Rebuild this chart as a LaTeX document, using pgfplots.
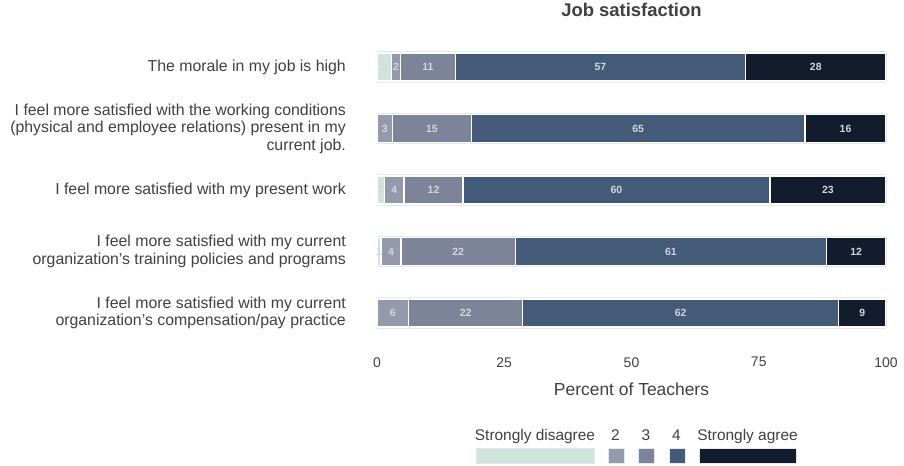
\documentclass[border=0pt]{standalone}
\usepackage{pgfplots}
\pgfplotsset{compat=1.18}
\usepackage{pgfplotstable}
\usepackage{fontspec}
\setmainfont{Liberation Sans}
\definecolor{cA}{HTML}{CFE5DC}
\definecolor{cB}{HTML}{9499AB}
\definecolor{cC}{HTML}{7D8499}
\definecolor{cD}{HTML}{435A79}
\definecolor{cE}{HTML}{131C2C}
\definecolor{cOut}{HTML}{E3E9EF}
\definecolor{cTxt}{HTML}{404040}
\definecolor{cLab}{HTML}{D2D6DD}

\pgfplotstableread{
y val
0 2.9
1 0
2 1.5
3 0.8
4 0
}\tA
\pgfplotstableread{
y val
0 1.7
1 3.1
2 3.8
3 3.9
4 6.2
}\tB
\pgfplotstableread{
y val
0 10.8
1 15.4
2 11.6
3 22.5
4 22.4
}\tC
\pgfplotstableread{
y val
0 57.0
1 65.6
2 60.3
3 61.1
4 62.1
}\tD
\pgfplotstableread{
y val
0 27.6
1 15.9
2 22.8
3 11.7
4 9.3
}\tE
\pgfplotstableread{
y val
0 100
1 100
2 100
3 100
4 100
}\tFull
% segment labels: centre of each segment and rounded percentage
\pgfplotstableread{
y mid lab
0 1.45 3
0 3.75 2
0 10.0 11
0 43.9 57
0 86.2 28
1 1.55 3
1 10.8 15
1 51.3 65
1 92.05 16
2 0.75 2
2 3.4 4
2 11.1 12
2 47.05 60
2 88.6 23
3 0.4 1
3 2.75 4
3 15.95 22
3 57.75 61
3 94.15 12
4 3.1 6
4 17.4 22
4 59.65 62
4 95.35 9
}\tLab

\begin{document}
\begin{tikzpicture}[x=1bp,y=1bp]
% faint outline behind bars
\begin{axis}[
  at={(377bp,122.25bp)}, anchor=south west,
  scale only axis, width=509bp, height=307.5bp,
  xmin=0, xmax=100, ymin=-0.5, ymax=4.5, y dir=reverse,
  hide axis, xbar, bar width=29.5bp,
]
\addplot[fill=none, draw=cOut, line width=2bp] table[x=val,y=y]{\tFull};
\end{axis}
\begin{axis}[
  at={(377bp,122.25bp)}, anchor=south west,
  scale only axis, width=509bp, height=307.5bp,
  xmin=0, xmax=100, ymin=-0.5, ymax=4.5, y dir=reverse,
  xbar stacked, bar width=28bp,
  axis line style={draw=none},
  tick style={draw=none}, major tick length=0pt,
  /pgf/number format/assume math mode=true,
  xtick={0,25,50,75,100},
  ytick={0,1,2,3,4},
  yticklabels={
    {The morale in my job is high},
    {I feel more satisfied with the working conditions\\(physical and employee relations) present in my\\current job.},
    {I feel more satisfied with my present work},
    {I feel more satisfied with my current\\organization’s training policies and programs},
    {I feel more satisfied with my current\\organization’s compensation/pay practice}
  },
  yticklabel style={align=right, anchor=east, inner sep=0pt, xshift=-31bp,
    font=\fontsize{15.9}{17.5}\selectfont, text=cTxt},
  xticklabel style={anchor=center, inner sep=0pt, yshift=-18.5bp,
    font=\fontsize{14}{16}\selectfont, text=cTxt},
  xlabel={Percent of Teachers},
  xlabel style={at={(axis description cs:0.5,0)}, anchor=center, yshift=-46bp,
    font=\fontsize{17.5}{20}\selectfont, text=cTxt},
  title={Job satisfaction},
  title style={at={(axis description cs:0.5,1)}, anchor=center, yshift=20bp,
    font=\fontsize{18.5}{21}\bfseries, text=cTxt},
  every axis plot/.append style={draw=white, line width=1.3bp},
]
\addplot[fill=cA] table[x=val,y=y]{\tA};
\addplot[fill=cB] table[x=val,y=y]{\tB};
\addplot[fill=cC] table[x=val,y=y]{\tC};
\addplot[fill=cD] table[x=val,y=y]{\tD};
\addplot[fill=cE] table[x=val,y=y]{\tE};
\end{axis}
% segment labels
\begin{axis}[
  at={(377bp,122.25bp)}, anchor=south west,
  scale only axis, width=509bp, height=307.5bp,
  xmin=0, xmax=100, ymin=-0.5, ymax=4.5, y dir=reverse,
  hide axis,
]
\addplot[draw=none, mark=none, point meta=explicit symbolic,
  nodes near coords,
  every node near coord/.style={anchor=center, inner sep=0pt,
    font=\fontsize{10.5}{12}\bfseries\selectfont, text=cLab}]
  table[x=mid,y=y,meta=lab]{\tLab};
\end{axis}
% legend
\begin{scope}[every node/.style={anchor=base, inner sep=0pt, text=cTxt,
    font=\fontsize{15.5}{18}\selectfont}]
\node at (535bp,26bp) {Strongly disagree};
\node at (615.5bp,26bp) {2};
\node at (646bp,26bp) {3};
\node at (676.5bp,26bp) {4};
\node at (747.5bp,26bp) {Strongly agree};
\end{scope}
\begin{scope}[draw=cOut, line width=1bp]
\filldraw[fill=cA] (476bp,2bp) rectangle (594bp,17bp);
\filldraw[fill=cB] (608bp,2bp) rectangle (624bp,17bp);
\filldraw[fill=cC] (638bp,2bp) rectangle (654bp,17bp);
\filldraw[fill=cD] (669bp,2bp) rectangle (685bp,17bp);
\filldraw[fill=cE] (699bp,2bp) rectangle (796bp,17bp);
\end{scope}
\pgfresetboundingbox
\path[use as bounding box] (0,0) rectangle (904bp,466bp);
\end{tikzpicture}
\end{document}
